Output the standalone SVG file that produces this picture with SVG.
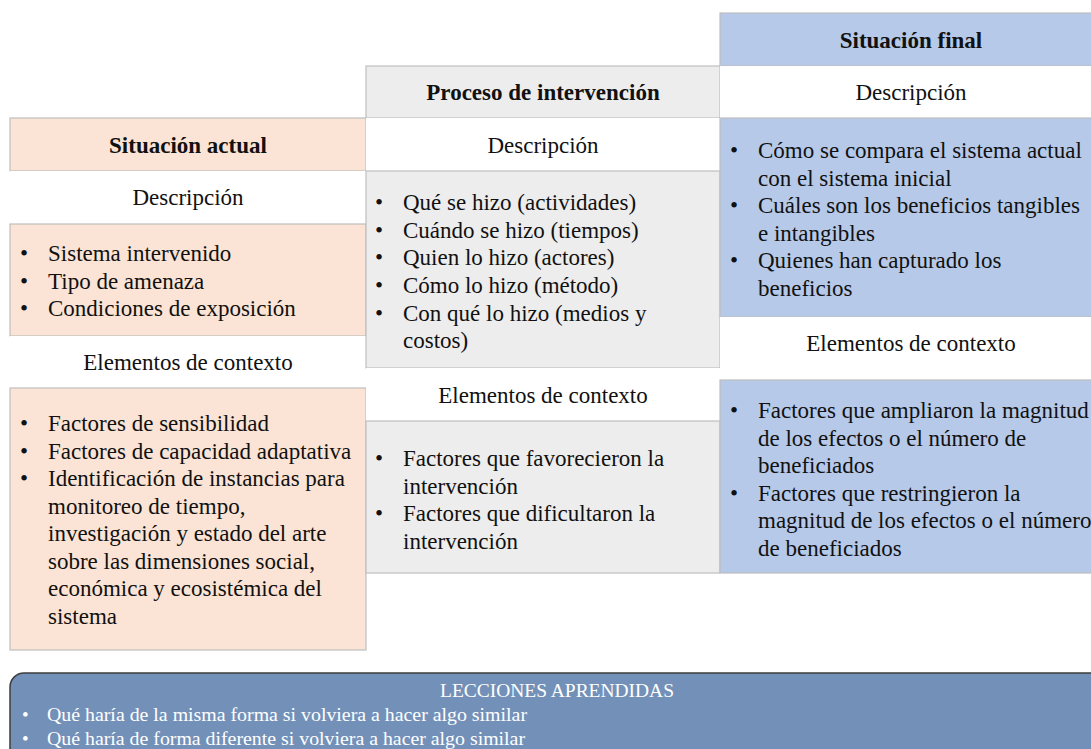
<svg xmlns="http://www.w3.org/2000/svg" width="1091" height="749" viewBox="0 0 1091 749">
<style>
.cell{stroke:#bfbfbf;stroke-width:1.2}
.peach{fill:#fbe4d5}
.gray{fill:#ededed}
.blue{fill:#b6c9e9}
.white{fill:#ffffff;stroke:none}
text{font-family:"Liberation Serif","Times New Roman",serif;fill:#111111;font-size:23px}
.h{font-weight:bold;text-anchor:middle}
.c{text-anchor:middle}
.b{fill:#ffffff;font-size:19px}
</style>
<rect width="1091" height="749" fill="#ffffff"/>

<!-- Left column: Situación actual -->
<g id="actual-header"><rect class="cell peach" x="10" y="118" width="356" height="53"/><text class="h" x="188" y="153">Situación actual</text></g>
<g id="actual-desc-label"><rect class="white" x="10" y="171" width="356" height="53"/><text class="c" x="188" y="205">Descripción</text></g>
<g id="actual-desc"><rect class="cell peach" x="10" y="224" width="356" height="112"/>
<text x="20" y="261">•</text><text x="48" y="261">Sistema intervenido</text>
<text x="20" y="288.5">•</text><text x="48" y="288.5">Tipo de amenaza</text>
<text x="20" y="316">•</text><text x="48" y="316">Condiciones de exposición</text>
</g>
<g id="actual-ctx-label"><rect class="white" x="10" y="336" width="356" height="52"/><text class="c" x="188" y="370">Elementos de contexto</text></g>
<g id="actual-ctx"><rect class="cell peach" x="10" y="388" width="356" height="262"/>
<text x="20" y="431">•</text><text x="48" y="431">Factores de sensibilidad</text>
<text x="20" y="458.5">•</text><text x="48" y="458.5">Factores de capacidad adaptativa</text>
<text x="20" y="486">•</text><text x="48" y="486">Identificación de instancias para</text>
<text x="48" y="513.5">monitoreo de tiempo,</text>
<text x="48" y="541">investigación y estado del arte</text>
<text x="48" y="568.5">sobre las dimensiones social,</text>
<text x="48" y="596">económica y ecosistémica del</text>
<text x="48" y="623.5">sistema</text>
</g>

<!-- Middle column: Proceso de intervención -->
<g id="proceso-header"><rect class="cell gray" x="366" y="66" width="354" height="52"/><text class="h" x="543" y="100">Proceso de intervención</text></g>
<g id="proceso-desc-label"><rect class="white" x="366" y="118" width="354" height="53"/><text class="c" x="543" y="153">Descripción</text></g>
<g id="proceso-desc"><rect class="cell gray" x="366" y="171" width="354" height="197"/>
<text x="375" y="210">•</text><text x="403" y="210">Qué se hizo (actividades)</text>
<text x="375" y="237.5">•</text><text x="403" y="237.5">Cuándo se hizo (tiempos)</text>
<text x="375" y="265">•</text><text x="403" y="265">Quien lo hizo (actores)</text>
<text x="375" y="293">•</text><text x="403" y="293">Cómo lo hizo (método)</text>
<text x="375" y="320.5">•</text><text x="403" y="320.5">Con qué lo hizo (medios y</text>
<text x="403" y="348">costos)</text>
</g>
<g id="proceso-ctx-label"><rect class="white" x="366" y="368" width="354" height="53"/><text class="c" x="543" y="403">Elementos de contexto</text></g>
<g id="proceso-ctx"><rect class="cell gray" x="366" y="421" width="354" height="152"/>
<text x="375" y="466">•</text><text x="403" y="466">Factores que favorecieron la</text>
<text x="403" y="493.5">intervención</text>
<text x="375" y="521">•</text><text x="403" y="521">Factores que dificultaron la</text>
<text x="403" y="548.5">intervención</text>
</g>

<!-- Right column: Situación final -->
<g id="final-header"><rect class="cell blue" x="720" y="13" width="382" height="53"/><text class="h" x="911" y="48">Situación final</text></g>
<g id="final-desc-label"><rect class="white" x="720" y="66" width="382" height="52"/><text class="c" x="911" y="100">Descripción</text></g>
<g id="final-desc"><rect class="cell blue" x="720" y="118" width="382" height="199"/>
<text x="730" y="158">•</text><text x="758" y="158">Cómo se compara el sistema actual</text>
<text x="758" y="185.5">con el sistema inicial</text>
<text x="730" y="213">•</text><text x="758" y="213">Cuáles son los beneficios tangibles</text>
<text x="758" y="240.5">e intangibles</text>
<text x="730" y="268">•</text><text x="758" y="268">Quienes han capturado los</text>
<text x="758" y="295.5">beneficios</text>
</g>
<g id="final-ctx-label"><rect class="white" x="720" y="317" width="382" height="63"/><text class="c" x="911" y="351">Elementos de contexto</text></g>
<g id="final-ctx"><rect class="cell blue" x="720" y="380" width="382" height="193"/>
<text x="730" y="418">•</text><text x="758" y="418">Factores que ampliaron la magnitud</text>
<text x="758" y="445.5">de los efectos o el número de</text>
<text x="758" y="473">beneficiados</text>
<text x="730" y="500.5">•</text><text x="758" y="500.5">Factores que restringieron la</text>
<text x="758" y="528">magnitud de los efectos o el número</text>
<text x="758" y="555.5">de beneficiados</text>
</g>

<!-- Bottom: Lecciones aprendidas -->
<g id="lecciones">
<rect x="10" y="673" width="1096" height="100" rx="14" fill="#7391b8" stroke="#3d3d3d" stroke-width="1.5"/>
<text class="b" x="557" y="697" text-anchor="middle" textLength="234" lengthAdjust="spacingAndGlyphs">LECCIONES APRENDIDAS</text>
<text class="b" x="22" y="721">•</text><text class="b" x="47" y="721" textLength="480" lengthAdjust="spacingAndGlyphs">Qué haría de la misma forma si volviera a hacer algo similar</text>
<text class="b" x="22" y="745">•</text><text class="b" x="47" y="745" textLength="478" lengthAdjust="spacingAndGlyphs">Qué haría de forma diferente si volviera a hacer algo similar</text>
</g>
</svg>
